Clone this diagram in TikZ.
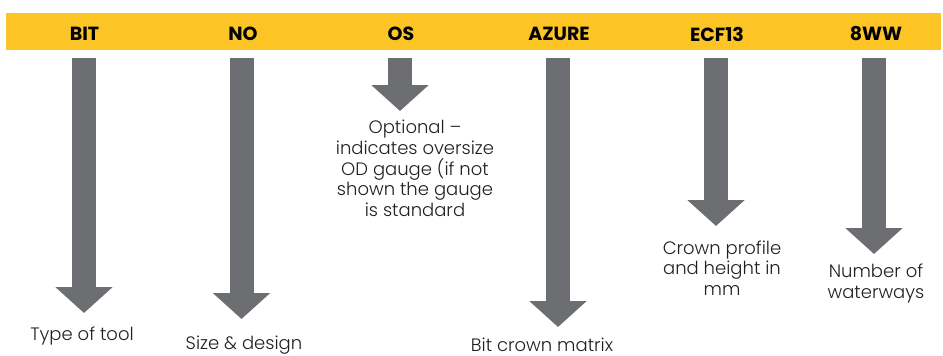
\documentclass[tikz,border=0pt]{standalone}
\usepackage{fontspec}
\setmainfont{Poppins}
\newfontfamily\headfont{Poppins}[UprightFont={* Bold}]
\newfontfamily\bodyfont{Poppins}[UprightFont={* Light}]
\usetikzlibrary{arrows.meta}
\definecolor{codeyellow}{RGB}{253,196,38}
\definecolor{arrowgrey}{RGB}{109,110,113}
\definecolor{labelgrey}{RGB}{35,31,32}

\begin{document}
\begin{tikzpicture}[x=1pt,y=-1pt,
  codebar/.style={fill=codeyellow,draw=none},
  codehead/.style={font=\headfont\fontsize{19}{22}\selectfont,text=black,inner sep=0pt,anchor=center},
  codelabel/.style={font=\bodyfont\fontsize{18}{20.7}\selectfont,text=labelgrey,inner sep=0pt,align=center,anchor=center},
  codearrow/.style={draw=arrowgrey,line width=24pt,-{Triangle[width=56pt,length=26pt]}}]
\useasboundingbox (0,0) rectangle (943,356);
\fill[codebar] (6,13) rectangle (941,50);

% header fields
\node[codehead] (bit) at (84.5,34) {BIT};
\node[codehead] (no) at (243,34) {NO};
\node[codehead] (os) at (401,34) {OS};
\node[codehead] (azure) at (559,34) {AZURE};
\node[codehead] (ecf) at (717,34) {ECF13};
\node[codehead] (ww) at (876,34) {8WW};

% meanings
\node[codelabel] (lbit) at (82,336) {Type of tool};
\node[codelabel] (lno) at (244,345) {Size \& design};
\node[codelabel] (los) at (415,168.5) {Optional –\\indicates oversize\\OD gauge (if not\\shown the gauge\\is standard};
\node[codelabel] (lazure) at (542,345) {Bit crown matrix};
\node[codelabel] (lecf) at (722,268) {Crown profile\\and height in\\mm};
\node[codelabel] (lww) at (876,283.5) {Number of\\waterways};

% arrow ends
\coordinate (sbit) at (84,58);   \coordinate (ebit) at (84,313);
\coordinate (sno) at (241.5,58); \coordinate (eno) at (241.5,319);
\coordinate (sos) at (400,58);   \coordinate (eos) at (400,111);
\coordinate (sazure) at (558,58); \coordinate (eazure) at (558,327);
\coordinate (secf) at (716,58);  \coordinate (eecf) at (716,226);
\coordinate (sww) at (874,58);   \coordinate (eww) at (874,254);

\draw[codearrow] (sbit) -- (ebit);
\draw[codearrow] (sno) -- (eno);
\draw[codearrow] (sos) -- (eos);
\draw[codearrow] (sazure) -- (eazure);
\draw[codearrow] (secf) -- (eecf);
\draw[codearrow] (sww) -- (eww);
\end{tikzpicture}
\end{document}
